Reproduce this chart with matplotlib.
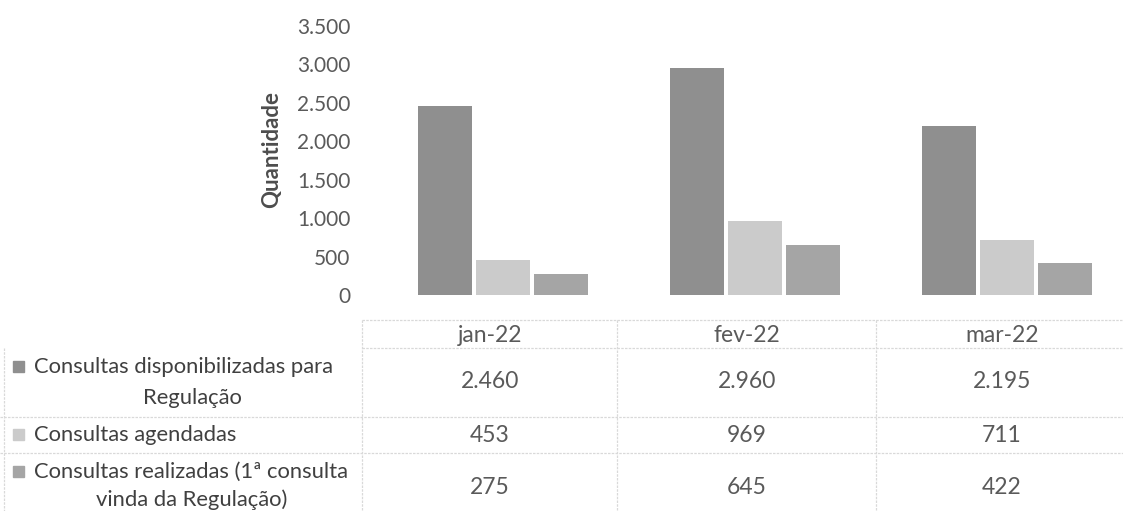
import matplotlib
matplotlib.use("Agg")
import matplotlib.pyplot as plt
from matplotlib.patches import Rectangle
from matplotlib.lines import Line2D

# Data
months = ["jan-22", "fev-22", "mar-22"]
series_names = [
    ["Consultas disponibilizadas para", "Regulação"],
    ["Consultas agendadas"],
    ["Consultas realizadas (1ª consulta", "vinda da Regulação)"],
]
disponibilizadas = [2460, 2960, 2195]
agendadas = [453, 969, 711]
realizadas = [275, 645, 422]
y_ticks = [0, 500, 1000, 1500, 2000, 2500, 3000, 3500]

series = [disponibilizadas, agendadas, realizadas]
colors = ["#8f8f8f", "#cbcbcb", "#a5a5a5"]
text_color = "#5a5a5a"
label_color = "#404040"
grid_color = "#d9d9d9"

plt.rcParams["font.family"] = ["Lato", "DejaVu Sans"]

W, H = 1123, 511
fig = plt.figure(figsize=(W / 100, H / 100), dpi=100)


def fx(px):
    return px / W


def fy(py):
    return 1 - py / H


# Chart area
ax_left, ax_right = 377, 1123
y0_px, ytop_px = 295, 26
ax = fig.add_axes([fx(ax_left), fy(y0_px), fx(ax_right - ax_left), (y0_px - ytop_px) / H])
cat_w = 252
ax.set_xlim(-0.5, -0.5 + (ax_right - ax_left) / cat_w)
ax.set_ylim(0, 3500)

bar_w = 0.215
offsets = [-0.23, 0.0, 0.23]
for vals, off, col in zip(series, offsets, colors):
    ax.bar([i + off for i in range(len(months))], vals, width=bar_w, color=col,
           edgecolor="none")

for s in ax.spines.values():
    s.set_visible(False)
ax.set_xticks([])
ax.set_yticks(y_ticks)
ax.set_yticklabels([f"{t:,}".replace(",", ".") for t in y_ticks])
ax.tick_params(axis="y", length=0, pad=19, labelsize=15, labelcolor=text_color)
fig.text(fx(272), fy(150), "Quantidade", rotation=90, ha="center", va="center",
         fontsize=16, fontweight="bold", color="#4d4d4d")

# Data table
col_edges = [362, 617, 876, 1123]
col_centers = [490, 747, 1002]
header_y = 335
row_y = [382, 435, 487]
h_lines = [(320, 362), (348, 362), (417, 0), (453, 0)]
for y, x_start in h_lines:
    fig.add_artist(Line2D([fx(x_start), fx(W)], [fy(y), fy(y)], color=grid_color,
                          lw=0.9, linestyle=(0, (2, 1))))
for x in col_edges[:-1]:
    fig.add_artist(Line2D([fx(x), fx(x)], [fy(320), fy(511)], color=grid_color,
                          lw=0.9, linestyle=(0, (2, 1))))
fig.add_artist(Line2D([fx(4), fx(4)], [fy(348), fy(511)], color=grid_color,
                      lw=0.9, linestyle=(0, (2, 1))))

for m, cx in zip(months, col_centers):
    fig.text(fx(cx), fy(header_y), m, ha="center", va="center", fontsize=16.5,
             color=text_color)
for vals, ry in zip(series, row_y):
    for v, cx in zip(vals, col_centers):
        fig.text(fx(cx), fy(ry), f"{v:,}".replace(",", "."), ha="center",
                 va="center", fontsize=16.5, color=text_color)

# Row labels with legend keys
label_rows = [(367, 398), (435, None), (472, 500)]
for name, (y1, y2), col in zip(series_names, label_rows, colors):
    fig.patches.append(Rectangle((fx(13), fy(y1 + 5)), fx(11), 11 / H, color=col,
                                 transform=fig.transFigure, figure=fig))
    fig.text(fx(34), fy(y1), name[0], ha="left", va="center", fontsize=15.8,
             color=label_color)
    if y2 is not None:
        fig.text(fx(192), fy(y2), name[1], ha="center", va="center", fontsize=15.8,
                 color=label_color)

fig.savefig("out.png", dpi=100, facecolor="white")
